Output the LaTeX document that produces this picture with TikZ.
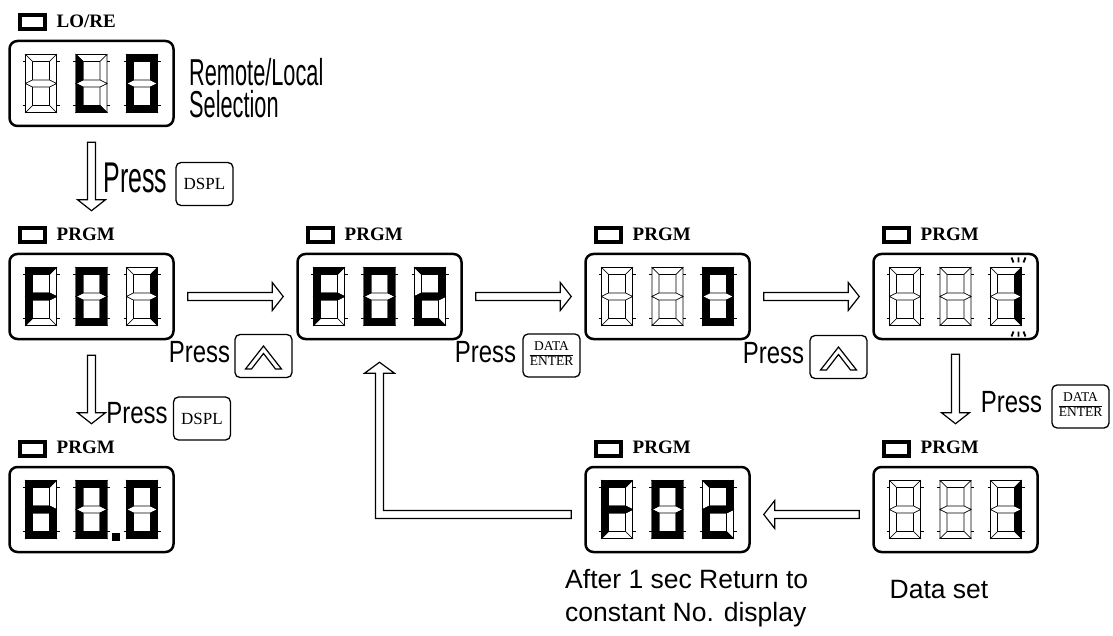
\documentclass[tikz,border=0pt]{standalone}
\usepackage{fontspec}
\setmainfont{Liberation Serif}
\newfontfamily\pressfont[FakeStretch=0.78]{Liberation Sans}
\newfontfamily\tallfont[FakeStretch=0.58]{Liberation Sans}
\newfontfamily\notefont{Liberation Sans}
\usetikzlibrary{calc,positioning}
\setlength\arrayrulewidth{1.3pt}

% segments of one digit (31 x 58, y down)
\newcommand\sgmta{(0,0) -- (31,0) -- (24,7) -- (7,7) -- cycle}
\newcommand\sgmtb{(31,0) -- (31,29) -- (24,25.5) -- (24,7) -- cycle}
\newcommand\sgmtc{(31,29) -- (31,58) -- (24,51) -- (24,32.5) -- cycle}
\newcommand\sgmtd{(0,58) -- (31,58) -- (24,51) -- (7,51) -- cycle}
\newcommand\sgmte{(0,29) -- (0,58) -- (7,51) -- (7,32.5) -- cycle}
\newcommand\sgmtf{(0,0) -- (0,29) -- (7,25.5) -- (7,7) -- cycle}
\newcommand\sgmtg{(0,29) -- (7,25.5) -- (24,25.5) -- (31,29) -- (24,32.5) -- (7,32.5) -- cycle}
\newcommand\sgmtp{(36,53) rectangle (43,60)}
\newcommand\sgmt{(0,0)}

\tikzset{
lcdbox/.style={draw,rounded corners=8pt,line width=2.5pt,minimum width=164pt,minimum height=85pt,inner sep=0pt},
led/.style={draw,line width=4pt,fill=white},
lcdlabel/.style={font=\fontsize{19}{22}\selectfont\bfseries,inner sep=0pt},
segoff/.style={draw,line width=0.6pt,fill=white,line join=miter},
segon/.style={draw,fill=black,line width=0.6pt},
key/.style={draw,rounded corners=5pt,line width=1.3pt,minimum width=57pt,minimum height=43pt,inner sep=0pt},
keyfont/.style={font=\fontsize{17}{18}\selectfont},
press/.style={font=\pressfont\fontsize{30.7}{31}\selectfont,inner sep=0pt},
remark/.style={font=\tallfont\fontsize{37.5}{33}\selectfont,inner sep=0pt,text height=28pt,text depth=1pt},
note/.style={font=\notefont\fontsize{26.5}{33}\selectfont,inner sep=0pt,align=left},
blink/.style={line width=1.8pt},
hollowline/.style={draw,fill=white,line width=1.2pt,line join=miter},
gapa/.store in=\gapa, gapb/.store in=\gapb, gapa=13pt, gapb=13pt,
hollow/.style={hollowline,to path={
  let \p1=($(\tikztostart)!\gapa!(\tikztotarget)$),
      \p2=($(\tikztotarget)!\gapb!(\tikztostart)$) in
  ($(\p1)!4pt!90:(\p2)$) -- ($(\p2)!11pt!(\p1)!4pt!90:(\p2)$)
  -- ($(\p2)!11pt!(\p1)!14pt!90:(\p2)$) -- (\p2)
  -- ($(\p2)!11pt!(\p1)!14pt!-90:(\p2)$) -- ($(\p2)!11pt!(\p1)!4pt!-90:(\p2)$)
  -- ($(\p1)!4pt!-90:(\p2)$) -- cycle}},
pics/digit/.style={code={
  \foreach \s in {a,b,c,d,e,f,g} \path[segoff] \csname sgmt\s\endcsname;
  \draw[line width=0.6pt] (-3,7) -- (0,7) (-3,51) -- (0,51) (31,7) -- (34,7) (31,51) -- (34,51);
  \foreach \s in {#1} \path[segon] \csname sgmt\s\endcsname;
}},
pics/caret/.style={code={
  \draw[line width=1.2pt,line join=miter] (-18,13) -- (0,-10) -- (18,13) -- (12,13) -- (0,-2.5) -- (-12,13) -- cycle;
}}
}

% display box: name, centre, three digits, indicator label
\newcommand\lcd[6]{%
  \node[lcdbox] (#1) at (#2) {};
  \draw[led] ($(#1)+(-72,-68)$) rectangle ++(25,14);
  \node[lcdlabel,anchor=base west] (#1l) at ($(#1)+(-35,-56)$) {#6};
  \pic at ($(#1)+(-66,-29)$) {digit={#3}};
  \pic at ($(#1)+(-15.5,-29)$) {digit={#4}};
  \pic at ($(#1)+(35,-29)$) {digit={#5}};
}
\newcommand\dataenter{\fontsize{13.5}{14}\selectfont\begin{tabular}{@{}c@{}}DATA\\\hline ENTER\end{tabular}}

\begin{document}
\begin{tikzpicture}[x=1pt,y=-1pt]
\useasboundingbox (0,0) rectangle (1113,636);
\lcd{lo}{91.5,83.5}{}{d,e,f}{a,b,c,d,e,f}{LO/RE}
\lcd{f01}{91.5,296.5}{a,f,g,e}{a,b,c,d,e,f}{b,c}{PRGM}
\lcd{f02}{379.5,296.5}{a,f,g,e}{a,b,c,d,e,f}{a,b,g,e,d}{PRGM}
\lcd{dig}{667.5,296.5}{}{}{a,b,c,d,e,f}{PRGM}
\lcd{blk}{955.5,296.5}{}{}{b,c}{PRGM}
\lcd{hz}{91.5,509.5}{a,f,g,e,d,c}{a,b,c,d,e,f,p}{a,b,c,d,e,f}{PRGM}
\lcd{ret}{667.5,509.5}{a,f,g,e}{a,b,c,d,e,f}{a,b,g,e,d}{PRGM}
\lcd{set}{955.5,509.5}{}{}{b,c}{PRGM}
% blinking digit
\draw[blink] ($(blk)+(56,-39)$) -- ++(2,5) ($(blk)+(63,-39)$) -- ++(0,5) ($(blk)+(70,-39)$) -- ++(-2,5);
\draw[blink] ($(blk)+(58,35)$) -- ++(-2,5) ($(blk)+(63,35)$) -- ++(0,5) ($(blk)+(68,35)$) -- ++(2,5);

\node[remark,anchor=base west] (rltext) at (189,86) {Remote/Local};
\node[remark,anchor=base west] (rltext2) at (189,118) {Selection};
\node[note,anchor=north west] (rettext) at (565,569) {After 1 sec Return to\\constant No. display};
\node[note,anchor=north] (settext) at (939,580) {Data set};

% keys
\node[key,keyfont] (k1) at (204.5,184) {DSPL};
\node[key] (k2) at (263.5,356) {};
\node[key] (k3) at (551.5,355.5) {\dataenter};
\node[key] (k4) at (838.5,357) {};
\node[key] (k5) at (1080.5,406.5) {\dataenter};
\node[key,keyfont] (k6) at (202,418.5) {DSPL};
\pic at (k2) {caret};
\pic at (k4) {caret};
\node[press,font=\tallfont\fontsize{43}{43}\selectfont,left=8pt of k1,yshift=6pt] (p1) {Press};
\node[press,left=4pt of k2,yshift=4pt] (p2) {Press};
\node[press,left=6pt of k3,yshift=3pt] (p3) {Press};
\node[press,left=5pt of k4,yshift=4pt] (p4) {Press};
\node[press,left=9pt of k5,yshift=4pt] (p5) {Press};
\node[press,left=5pt of k6,yshift=5pt] (p6) {Press};

% arrows
\draw[hollow,gapa=15pt,gapb=17pt] (lo.south) to (lo.south |- f01l.north);
\draw[hollow] (f01.east) to (f02.west);
\draw[hollow] (f02.east) to (dig.west);
\draw[hollow] (dig.east) to (blk.west);
\draw[hollow,gapa=15pt,gapb=17pt] (f01.south) to (f01.south |- hzl.north);
\draw[hollow,gapa=14pt,gapb=17pt] (blk.south) to (blk.south |- setl.north);
\draw[hollow] ([yshift=-5pt]set.west) to ([yshift=-5pt]ret.east);
\coordinate (rs) at ([xshift=-13pt,yshift=-5pt]ret.west);
\coordinate (rt) at ([yshift=-22pt]f02.south);
\draw[hollowline] ($(rs)+(0,-4)$) -- ($(rt|-rs)+(4,-4)$) -- ($(rt)+(4,11)$) -- ($(rt)+(15,11)$) -- (rt)
  -- ($(rt)+(-15,11)$) -- ($(rt)+(-4,11)$) -- ($(rt|-rs)+(-4,4)$) -- ($(rs)+(0,4)$) -- cycle;
\end{tikzpicture}
\end{document}
